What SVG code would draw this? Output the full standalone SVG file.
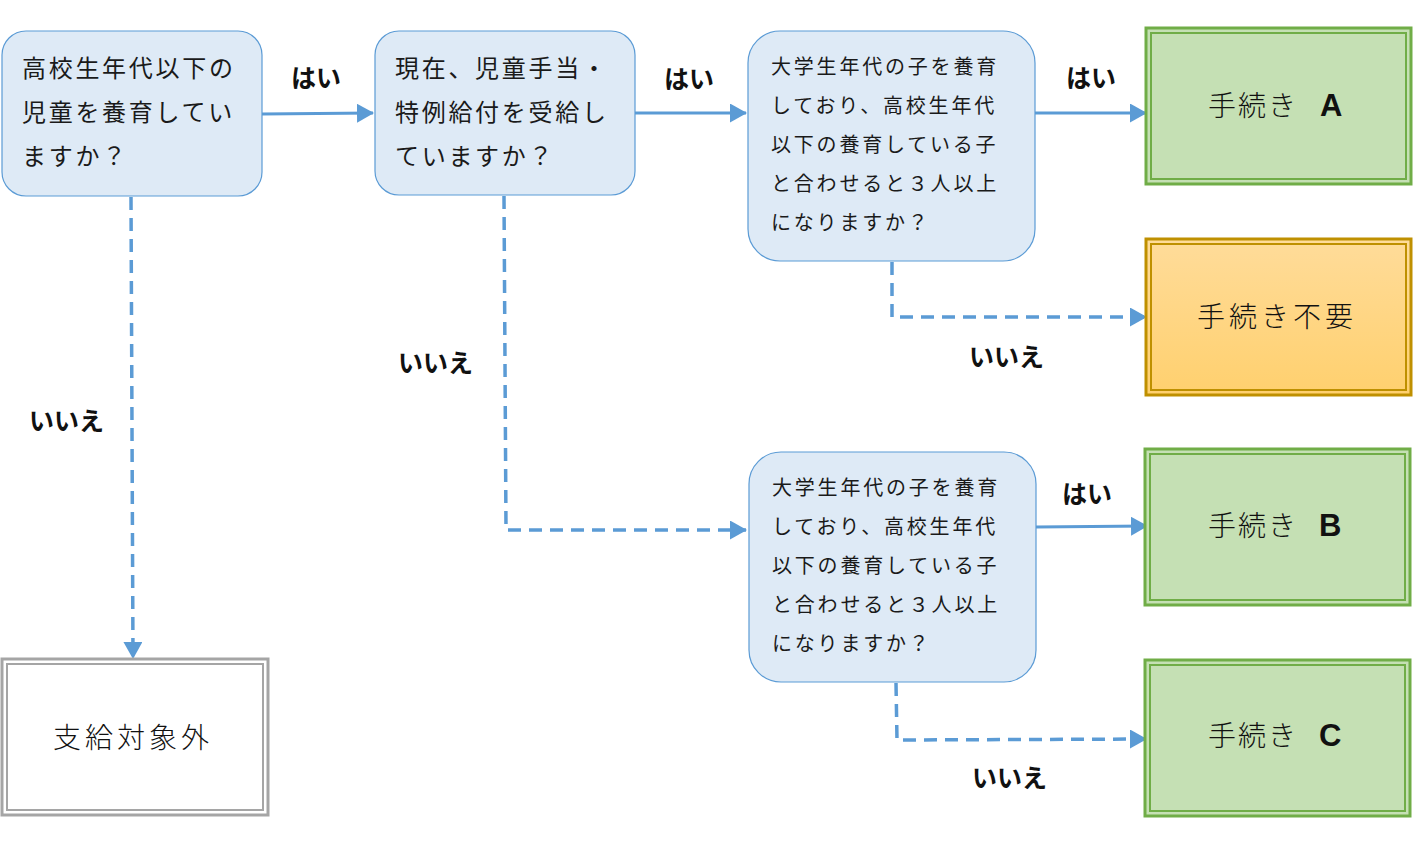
<svg xmlns="http://www.w3.org/2000/svg" width="1421" height="841" viewBox="0 0 1421 841">
<style>
.q{fill:#DEEAF6;stroke:#5B9BD5;stroke-width:1.2}
.qt{font-family:"Noto Sans CJK JP","Noto Sans",sans-serif;fill:#1a1a1a}
.qa{font-size:24px;letter-spacing:2.7px}
.qb{font-size:20px;letter-spacing:2.8px}
.ot{font-family:"Noto Sans CJK JP","Noto Sans",sans-serif;font-size:28px;font-weight:300;fill:#111}
.ob{font-family:"Liberation Sans","Noto Sans",sans-serif;font-weight:bold;font-size:31px}
.lb{font-family:"Noto Sans CJK JP","Noto Sans",sans-serif;font-size:25px;font-weight:bold;fill:#111}
.c{fill:none;stroke:#5B9BD5;stroke-width:3}
.d{stroke-width:3.5;stroke-dasharray:13 8}
.g1{fill:#C5E0B4;stroke:#70AD47;stroke-width:3}
.g2{fill:none;stroke:#70AD47;stroke-width:2}
.y1{fill:url(#gold);stroke:#BF9000;stroke-width:3}
.y2{fill:none;stroke:#BF9000;stroke-width:2}
.w1{fill:#fff;stroke:#A5A5A5;stroke-width:3}
.w2{fill:none;stroke:#A5A5A5;stroke-width:2}
</style>
<defs>
<linearGradient id="gold" x1="0" y1="0" x2="0" y2="1">
<stop offset="0" stop-color="#FFDC9A"/>
<stop offset="1" stop-color="#FFD06E"/>
</linearGradient>
<marker id="ah" markerUnits="userSpaceOnUse" markerWidth="17" markerHeight="19" refX="16" refY="9.5" orient="auto">
<path d="M0,0 L17,9.5 L0,19 z" fill="#5B9BD5"/>
</marker>
</defs>
<rect width="1421" height="841" fill="#fff"/>

<g id="connectors">
<path class="c" d="M262,114 L373,113" marker-end="url(#ah)"/>
<path class="c" d="M635,113 L746,113" marker-end="url(#ah)"/>
<path class="c" d="M1035,113 L1146,113" marker-end="url(#ah)"/>
<path class="c" d="M1036,527 L1147,526" marker-end="url(#ah)"/>
<path class="c d" d="M131,197 L133,658" marker-end="url(#ah)"/>
<path class="c d" d="M504,196 L506,530 L746,530" marker-end="url(#ah)"/>
<path class="c d" d="M892,262 L892,317 L1146,317" marker-end="url(#ah)"/>
<path class="c d" d="M896,683 L897,740 L1146,739" marker-end="url(#ah)"/>
<text class="lb" x="291" y="87">はい</text>
<text class="lb" x="664" y="88">はい</text>
<text class="lb" x="1066" y="87">はい</text>
<text class="lb" x="1062" y="503">はい</text>
<text class="lb" x="29" y="430">いいえ</text>
<text class="lb" x="398" y="372">いいえ</text>
<text class="lb" x="969" y="366">いいえ</text>
<text class="lb" x="972" y="787">いいえ</text>
</g>

<g id="q1">
<rect class="q" x="2" y="31" width="260" height="165" rx="24"/>
<text class="qt qa" x="22" y="77">高校生年代以下の</text>
<text class="qt qa" x="22" y="121">児童を養育してい</text>
<text class="qt qa" x="22" y="165">ますか？</text>
</g>

<g id="q2">
<rect class="q" x="375" y="31" width="260" height="164" rx="24"/>
<text class="qt qa" x="395" y="77">現在、児童手当・</text>
<text class="qt qa" x="395" y="121">特例給付を受給し</text>
<text class="qt qa" x="395" y="165">ていますか？</text>
</g>

<g id="q3">
<rect class="q" x="748" y="31" width="287" height="230" rx="32"/>
<text class="qt qb" x="771" y="74">大学生年代の子を養育</text>
<text class="qt qb" x="771" y="113">しており、高校生年代</text>
<text class="qt qb" x="771" y="152">以下の養育している子</text>
<text class="qt qb" x="771" y="191">と合わせると３人以上</text>
<text class="qt qb" x="771" y="230">になりますか？</text>
</g>

<g id="q4">
<rect class="q" x="749" y="452" width="287" height="230" rx="32"/>
<text class="qt qb" x="772" y="495">大学生年代の子を養育</text>
<text class="qt qb" x="772" y="534">しており、高校生年代</text>
<text class="qt qb" x="772" y="573">以下の養育している子</text>
<text class="qt qb" x="772" y="612">と合わせると３人以上</text>
<text class="qt qb" x="772" y="651">になりますか？</text>
</g>

<g id="outA">
<rect class="g1" x="1146" y="28" width="265" height="156"/>
<rect class="g2" x="1151" y="33" width="255" height="146"/>
<text class="ot" x="1208" y="116" letter-spacing="2">手続き</text>
<text class="ot ob" x="1320" y="116">A</text>
</g>

<g id="outNone">
<rect class="y1" x="1146" y="239" width="265" height="156"/>
<rect class="y2" x="1151" y="244" width="255" height="146"/>
<text class="ot" x="1197" y="327" letter-spacing="4">手続き不要</text>
</g>

<g id="outB">
<rect class="g1" x="1145" y="449" width="265" height="156"/>
<rect class="g2" x="1150" y="454" width="255" height="146"/>
<text class="ot" x="1208" y="536" letter-spacing="2">手続き</text>
<text class="ot ob" x="1319" y="536">B</text>
</g>

<g id="outC">
<rect class="g1" x="1145" y="660" width="265" height="156"/>
<rect class="g2" x="1150" y="665" width="255" height="146"/>
<text class="ot" x="1208" y="746" letter-spacing="2">手続き</text>
<text class="ot ob" x="1319" y="746">C</text>
</g>

<g id="outExcluded">
<rect class="w1" x="2" y="659" width="266" height="156"/>
<rect class="w2" x="7" y="664" width="256" height="146"/>
<text class="ot" x="53" y="748" letter-spacing="4">支給対象外</text>
</g>
</svg>
